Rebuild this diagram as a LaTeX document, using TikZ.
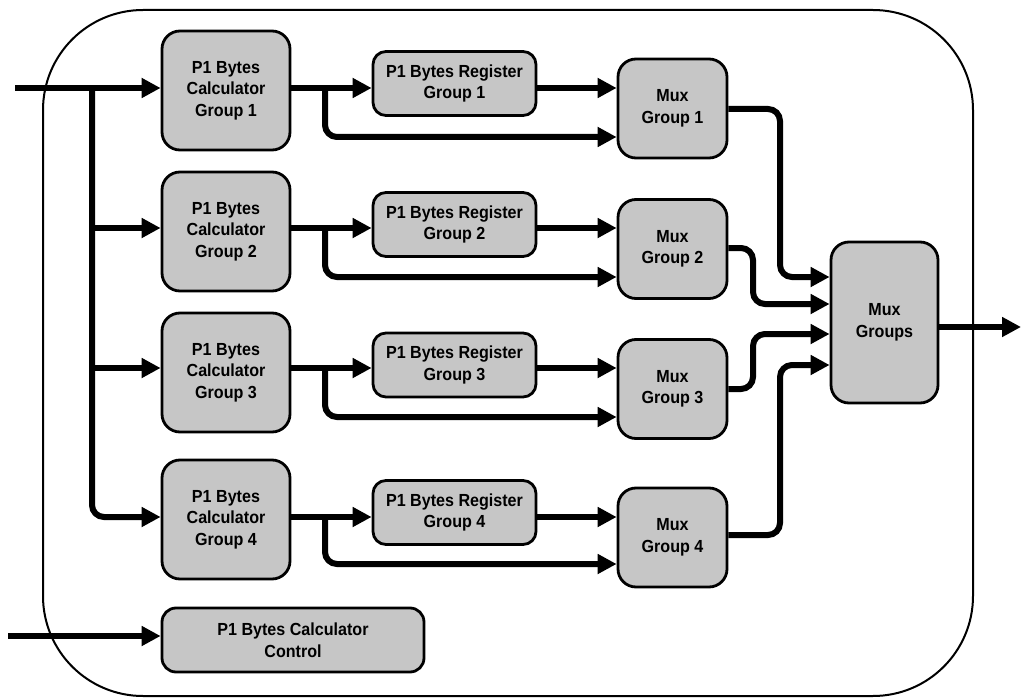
\documentclass[tikz,border=0pt]{standalone}
\usepackage{fontspec}
\setmainfont{Liberation Sans}[FakeStretch=0.92]
\usetikzlibrary{arrows.meta}
\definecolor{boxgray}{RGB}{198,198,198}
\tikzset{
  blk/.style={draw=black, line width=2.8pt, fill=boxgray, rounded corners=18pt,
    align=center, inner sep=0pt, font=\fontsize{17.5}{21.5}\selectfont\bfseries},
  calcbox/.style={blk, minimum width=128pt, minimum height=119pt},
  regbox/.style={blk, minimum width=163pt, minimum height=64pt, rounded corners=13pt},
  muxbox/.style={blk, minimum width=109pt, minimum height=99pt},
  wire/.style={line width=6pt, rounded corners=12pt},
  arr/.style={wire, -{Triangle[length=19pt,width=19pt]}},
  frame/.style={draw=black, line width=2pt, rounded corners=100pt}
}
\begin{document}
\begin{tikzpicture}[x=1pt, y=-1pt]
\useasboundingbox (0,0) rectangle (1023,698);

% enclosing module outline
\draw[frame] (43,10) rectangle (973,696);

% calculators
\node[calcbox] (calc1) at (226,90.5)  {P1 Bytes\\Calculator\\Group 1};
\node[calcbox] (calc2) at (226,231.5) {P1 Bytes\\Calculator\\Group 2};
\node[calcbox] (calc3) at (226,372.5) {P1 Bytes\\Calculator\\Group 3};
\node[calcbox] (calc4) at (226,519.5) {P1 Bytes\\Calculator\\Group 4};

% registers
\node[regbox] (reg1) at (454.5,83.5)  {P1 Bytes Register\\Group 1};
\node[regbox] (reg2) at (454.5,224.5) {P1 Bytes Register\\Group 2};
\node[regbox] (reg3) at (454.5,365)   {P1 Bytes Register\\Group 3};
\node[regbox] (reg4) at (454.5,512.5) {P1 Bytes Register\\Group 4};

% multiplexers
\node[muxbox] (mux1) at (672.5,108.5) {Mux\\Group 1};
\node[muxbox] (mux2) at (672.5,249)   {Mux\\Group 2};
\node[muxbox] (mux3) at (672.5,389)   {Mux\\Group 3};
\node[muxbox] (mux4) at (672.5,537.5) {Mux\\Group 4};

\node[blk, minimum width=107pt, minimum height=161pt] (muxg) at (884.5,322.5) {Mux\\Groups};

\node[blk, minimum width=262pt, minimum height=64pt, rounded corners=14pt] (ctrl) at (293,640)
  {P1 Bytes Calculator\\Control};

% inputs
\coordinate (src)  at (15,88);
\coordinate (tap)  at (92,88);
\coordinate (csrc) at (8,636);
\coordinate (dst)  at (1021,327);

\draw[arr] (src) -- (calc1.west |- src);
\draw[arr] (tap) -- (92,517) -- (calc4.west |- 0,517);
\draw[arr] (92,228) -- (calc2.west |- 0,228);
\draw[arr] (92,368) -- (calc3.west |- 0,368);
\draw[arr] (csrc) -- (ctrl.west |- csrc);

% calculator -> register -> mux, with bypass
\foreach \i/\ya/\yb in {1/88/137, 2/228/277, 3/368/417, 4/517/564}{
  \draw[arr] (calc\i.east |- 0,\ya) -- (reg\i.west |- 0,\ya);
  \draw[arr] (reg\i.east |- 0,\ya) -- (mux\i.west |- 0,\ya);
  \draw[arr] (325,\ya) -- (325,\yb) -- (mux\i.west |- 0,\yb);
}

% mux outputs into the final mux
\draw[arr] (mux1.east |- 0,109) -- (780,109) -- (780,277) -- (muxg.west |- 0,277);
\draw[arr] (mux2.east |- 0,248) -- (753,248) -- (753,304) -- (muxg.west |- 0,304);
\draw[arr] (mux3.east |- 0,389) -- (753,389) -- (753,334) -- (muxg.west |- 0,334);
\draw[arr] (mux4.east |- 0,535) -- (780,535) -- (780,365) -- (muxg.west |- 0,365);

% output
\draw[arr] (muxg.east |- dst) -- (dst);
\end{tikzpicture}
\end{document}
